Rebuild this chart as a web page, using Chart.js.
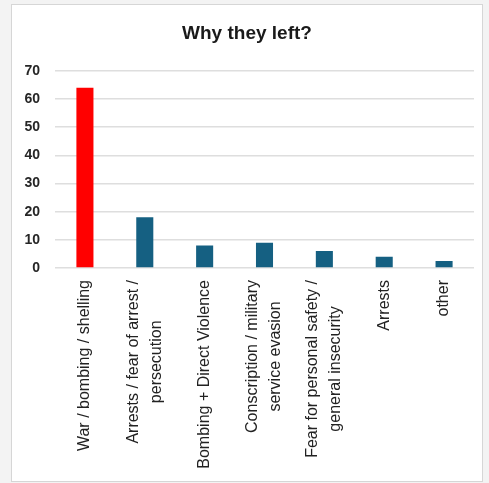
<!DOCTYPE html>
<html>
<head>
<meta charset="utf-8">
<script src="https://cdn.jsdelivr.net/npm/chart.js@4"></script>
<style>
  html, body { margin: 0; padding: 0; background: #f3f3f3; }
  #card { position: absolute; left: 11px; top: 4px; width: 470px; height: 476px; background: #fff; border: 1px solid #d6d6d6; }
  #wrap { position: absolute; left: 0; top: 0; width: 489px; height: 483px; }
</style>
</head>
<body>
<div id="card"></div>
<div id="wrap"><canvas id="c" width="489" height="483"></canvas></div>
<script>
const categories = [
  "War / bombing / shelling",
  ["Arrests / fear of arrest /", "persecution"],
  "Bombing + Direct Violence",
  ["Conscription / military", "service evasion"],
  ["Fear for personal safety /", "general insecurity"],
  "Arrests",
  "other"
];
const values = [64, 18, 8, 9, 6, 4, 2.5];
const barColors = ["#FF0000", "#156082", "#156082", "#156082", "#156082", "#156082", "#156082"];
const yTicks = [0, 10, 20, 30, 40, 50, 60, 70];
const titleText = "Why they left?";

const FONT = 'Liberation Sans, Arial, sans-serif';

// Draws the category labels rotated, each line centred on the others (as in the reference)
const centeredRotatedLabels = {
  id: 'centeredRotatedLabels',
  afterDraw(chart) {
    const scale = chart.scales.x;
    const ctx = chart.ctx;
    const lineGap = 23;
    const pad = 12;
    ctx.save();
    ctx.font = '16px ' + FONT;
    ctx.fillStyle = '#222';
    ctx.textAlign = 'center';
    ctx.textBaseline = 'middle';
    chart.data.labels.forEach((lab, i) => {
      const lines = Array.isArray(lab) ? lab : [lab];
      const maxW = Math.max(...lines.map(l => ctx.measureText(l).width));
      const xc = scale.getPixelForTick(i);
      const yc = scale.top + pad + maxW / 2;
      lines.forEach((line, j) => {
        const x = xc + (j - (lines.length - 1) / 2) * lineGap;
        ctx.save();
        ctx.translate(x, yc);
        ctx.rotate(-Math.PI / 2);
        ctx.fillText(line, 0, 0);
        ctx.restore();
      });
    });
    ctx.restore();
  }
};

new Chart(document.getElementById('c'), {
  type: 'bar',
  data: {
    labels: categories,
    datasets: [{ data: values, backgroundColor: barColors, categoryPercentage: 1, barPercentage: 0.285 }]
  },
  options: {
    responsive: false,
    animation: false,
    layout: { padding: { left: 20, right: 15, top: 0, bottom: 0 } },
    plugins: {
      legend: { display: false },
      tooltip: { enabled: false },
      title: {
        display: true, text: titleText, color: '#1a1a1a',
        font: { family: FONT, size: 19, weight: 'bold' },
        padding: { top: 22, bottom: 26 }
      }
    },
    scales: {
      y: {
        min: 0, max: 70,
        afterBuildTicks: (s) => { s.ticks = yTicks.map(v => ({ value: v })); },
        afterFit: (s) => { s.width = 35; },
        border: { display: false },
        grid: { color: '#dedede', lineWidth: 1.5, drawTicks: false },
        ticks: { padding: 15, color: '#262626', font: { family: FONT, size: 14, weight: 'bold' } }
      },
      x: {
        afterFit: (s) => { s.height = 215; },
        border: { display: false },
        grid: { display: false, drawTicks: false },
        ticks: { display: false }
      }
    }
  },
  plugins: [centeredRotatedLabels]
});
</script>
</body>
</html>
